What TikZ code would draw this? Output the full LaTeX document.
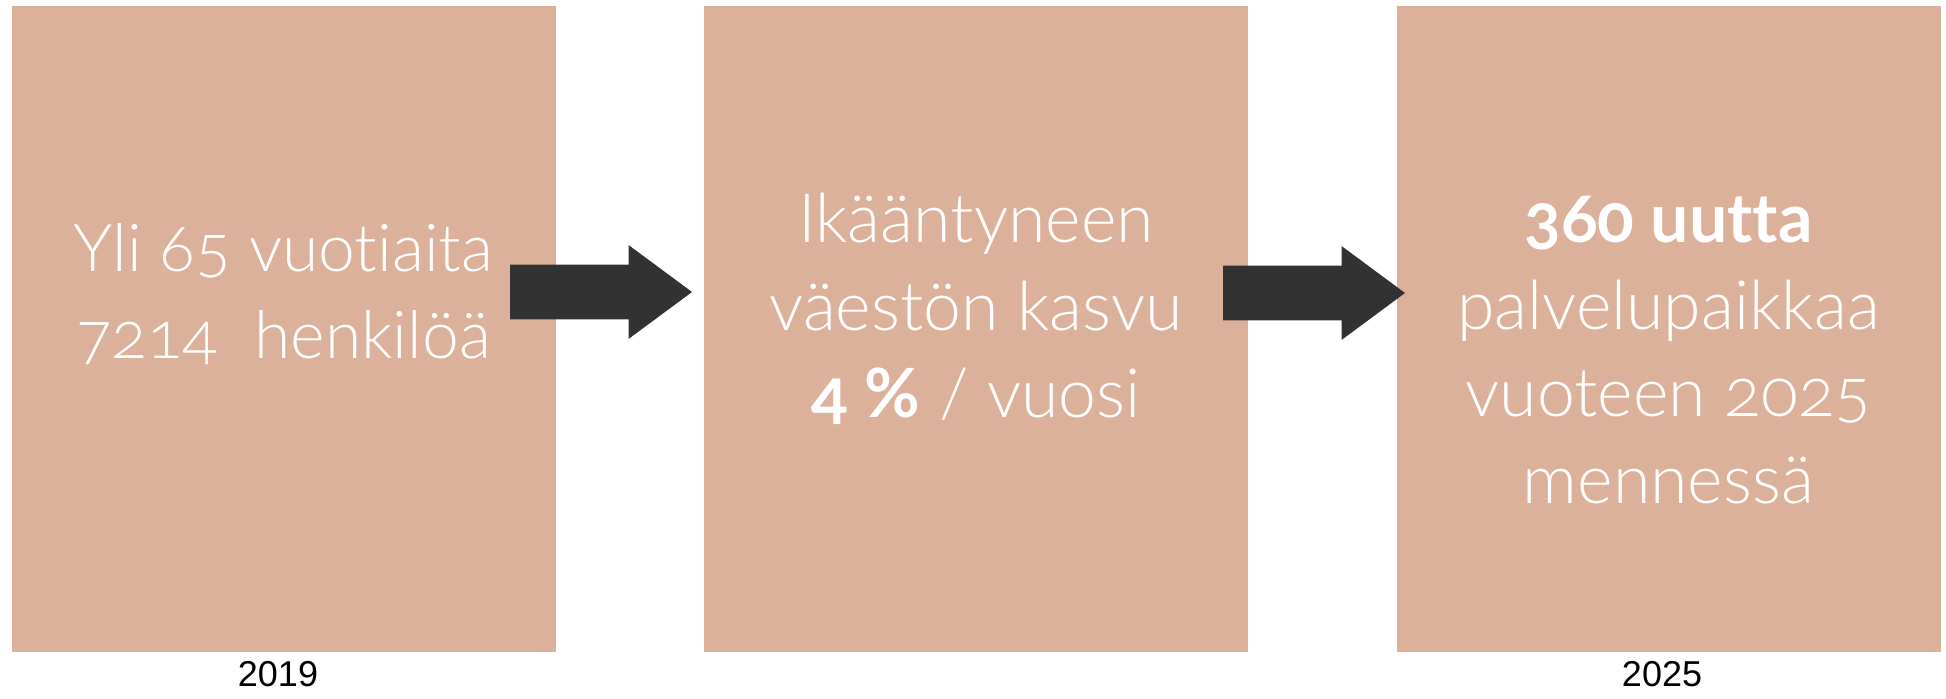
\documentclass[tikz,border=0pt]{standalone}
\usepackage{fontspec}
\setmainfont{Lato}[UprightFont=* Light, BoldFont=* Bold, Ligatures=NoCommon, Numbers=OldStyle]
\newfontfamily\yearfont{Liberation Sans}
\usetikzlibrary{positioning, shapes.arrows}
\definecolor{boxpeach}{RGB}{219, 177, 155}
\definecolor{arrowgrey}{RGB}{50, 50, 50}

\begin{document}
\begin{tikzpicture}[x=0.5pt, y=-0.5pt,
                box/.style={rectangle,
                fill=boxpeach,
                minimum width=272pt,
                minimum height=323pt,
                inner sep=0pt},
                txt/.style={text=white,
                anchor=base,
                align=center,
                font=\fontsize{34}{43.5}\selectfont},
                blk/.style={single arrow,
                fill=arrowgrey,
                anchor=tail,
                inner xsep=0pt,
                inner ysep=13.5pt,
                outer sep=0pt,
                minimum height=91pt,
                single arrow head extend=9.75pt,
                single arrow tip angle=73},
                yr/.style={font=\yearfont\fontsize{18}{20}\selectfont,
                anchor=base}]
                \useasboundingbox (0,0) rectangle (1946,699);
                \node[box] (b1) at (283.5,329) {};
                \node[box] (b2) at (976,329) {};
                \node[box] (b3) at (1668.5,329) {};
                \node[blk] (a1) at (510,292) {};
                \node[blk] (a2) at (1223,293) {};
                % last baseline of each text block
                \node[txt, font=\fontsize{33}{43.5}\selectfont] (t1) at (283.5,359)
                    {Yli 65 vuotiaita\\7214\ \ henkilöä};
                \node[txt] (t2) at (976,417)
                    {Ikääntyneen\\väestön kasvu\\\textbf{4 \%} / vuosi};
                \node[txt] (t3) at (1668.5,503)
                    {\textbf{360 uutta}\\palvelupaikkaa\\vuoteen 2025\\mennessä};
                \node[yr] (y1) at (278,686) {2019};
                \node[yr] (y2) at (1662,686) {2025};
            \end{tikzpicture}
\end{document}
